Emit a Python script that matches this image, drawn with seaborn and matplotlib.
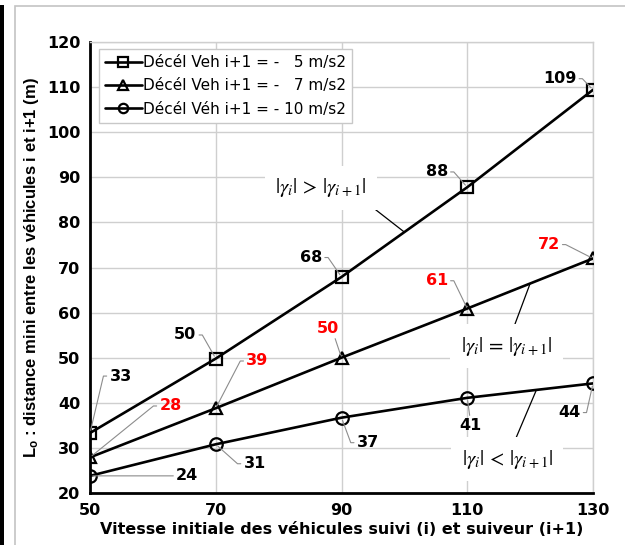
import numpy as np
import pandas as pd
import matplotlib
matplotlib.use("Agg")
import matplotlib.pyplot as plt
from matplotlib.patches import Rectangle
import seaborn as sns

# data
vitesse = [50, 70, 90, 110, 130]
dist_5 = [33.3, 49.8, 67.9, 87.8, 109.4]
dist_7 = [27.9, 38.8, 50.0, 60.9, 72.0]
dist_10 = [23.8, 30.8, 36.7, 41.1, 44.3]
lab_5 = ["33", "50", "68", "88", "109"]
lab_7 = ["28", "39", "50", "61", "72"]
lab_10 = ["24", "31", "37", "41", "44"]
noms = ["Décél Veh i+1 = -   5 m/s2",
        "Décél Veh i+1 = -   7 m/s2",
        "Décél Véh i+1 = - 10 m/s2"]

sns.set_style("white")
# the screenshot is stretched sideways, DejaVu is wider so it fits better
plt.rcParams['font.family'] = ['DejaVu Sans']
plt.rcParams['text.color'] = 'black'
plt.rcParams['axes.labelcolor'] = 'black'
plt.rcParams['xtick.color'] = 'black'
plt.rcParams['ytick.color'] = 'black'
plt.rcParams['mathtext.fontset'] = 'custom'
plt.rcParams['mathtext.rm'] = 'Liberation Sans:bold'
plt.rcParams['mathtext.it'] = 'Liberation Sans:bold'
plt.rcParams['mathtext.bf'] = 'Liberation Sans:bold'

fig = plt.figure(figsize=(6.25, 5.45), dpi=100)
ax = fig.add_axes([90/625, 52/545, 503/625, 451/545])

# frame + black strip at the left like the screenshot
fig.patches.append(Rectangle((15/625, -0.1), 1.2, 0.1 + 539/545, transform=fig.transFigure,
                             fill=False, edgecolor='#c4c4c4', lw=1.2))
fig.patches.append(Rectangle((0, 0), 4/625, 540/545, transform=fig.transFigure,
                             facecolor='black', edgecolor='none'))

series = [(dist_5, lab_5, 's', 'black'),
          (dist_7, lab_7, '^', 'red'),
          (dist_10, lab_10, 'o', 'black')]

for (vals, labs, mk, col), nom in zip(series, noms):
    df = pd.DataFrame({"v": vitesse, "d": vals})
    sns.lineplot(data=df, x="v", y="d", ax=ax, color='black', lw=1.9,
                 marker=mk, markersize=9, markerfacecolor='none',
                 markeredgecolor='black', markeredgewidth=1.6, label=nom, zorder=3)

# label offsets (points) and leader line style per point
offs = [
    [(22, 41), (-22, 17), (-22, 14), (-22, 11), (-24, 8)],
    [(58, 37), (30, 34), (-10, 21), (-22, 20), (-32, 10)],
    [(70, 0), (28, -14), (19, -18), (2, -20), (-17, -21)],
]
leader = [
    [((0, .5), 180), ((1, .5), 0), ((1, .5), 0), ((1, .5), 0), ((1, .5), 0)],
    [((0, .5), 180), ((0, .5), 180), ((0.8, 0), None), ((1, .5), 0), ((1, .5), 0)],
    [((0, .5), None), ((0, .5), 180), ((0, .5), 180), ((0.5, 1), None), ((1, .5), 0)],
]
for (vals, labs, mk, col), of, ld in zip(series, offs, leader):
    for x, y, t, o, (rp, ang) in zip(vitesse, vals, labs, of, ld):
        if ang is None:
            cs = "arc3,rad=0"
        else:
            cs = "arc,angleA=%d,armA=6,rad=0" % ang
        ax.annotate(t, xy=(x, y), xytext=o, textcoords='offset points',
                    ha='center', va='center', fontsize=11.5, fontweight='bold',
                    color=col, zorder=5,
                    arrowprops=dict(arrowstyle='-', color='#8c8c8c', lw=0.8,
                                    connectionstyle=cs, relpos=rp, patchA=None,
                                    shrinkA=2, shrinkB=2))

# gamma annotations pointing at the curves
gam = [(r'$|\gamma_i|\,>\,|\gamma_{i+1}|$', dist_5, 100, (-60, 32), (0.95, 0)),
       (r'$|\gamma_i|\,=\,|\gamma_{i+1}|$', dist_7, 120, (-17, -45), (0.55, 1)),
       (r'$|\gamma_i|\,<\,|\gamma_{i+1}|$', dist_10, 121, (-21, -50), (0.55, 1))]
for txt, vals, xg, o, rp in gam:
    yg = np.interp(xg, vitesse, vals)
    ax.annotate(txt, xy=(xg, yg), xytext=o, textcoords='offset points',
                ha='center', va='center', fontsize=15, math_fontfamily='stix',
                zorder=4,
                bbox=dict(boxstyle='square,pad=0.5', fc='white', ec='none'),
                arrowprops=dict(arrowstyle='-', color='black', lw=0.9,
                                relpos=rp, shrinkA=0, shrinkB=0))

ax.set_xlim(50, 130)
ax.set_ylim(20, 120)
ax.set_xticks(vitesse)
ax.set_yticks(np.arange(20, 121, 10))
ax.grid(True, color='#cfcfcf', lw=1)
ax.set_axisbelow(True)
for s in ['top', 'right']:
    ax.spines[s].set_color('#cfcfcf')
    ax.spines[s].set_linewidth(1)
for s in ['left', 'bottom']:
    ax.spines[s].set_color('black')
    ax.spines[s].set_linewidth(2)
ax.tick_params(axis='both', direction='inout', length=7, width=1.8, color='black',
               labelcolor='black', labelsize=11.5, pad=3.5)
for lb in ax.get_xticklabels() + ax.get_yticklabels():
    lb.set_fontweight('bold')

ax.set_xlabel("Vitesse initiale des véhicules suivi (i) et suiveur (i+1)",
              fontsize=11.5, fontweight='bold', labelpad=3, color='black')
# vertical text is not stretched in the screenshot -> narrower font here
ax.set_ylabel(r"L$_{\mathrm{o}}$ : distance mini entre les véhicules i et i+1 (m)",
              fontsize=12, fontweight='bold', labelpad=4, color='black',
              family=['Liberation Sans', 'DejaVu Sans'])

leg = ax.legend(loc='upper left', bbox_to_anchor=(0.018, 0.985), borderaxespad=0,
                fontsize=11, frameon=True, fancybox=False, framealpha=1,
                edgecolor='#c8c8c8', handlelength=2.4, handletextpad=0.1,
                labelspacing=0.55, borderpad=0.4, markerscale=0.75)
leg.get_frame().set_linewidth(1)
leg.set_zorder(6)
for t in leg.get_texts():
    t.set_color('black')

fig.savefig("out.png", dpi=100)
